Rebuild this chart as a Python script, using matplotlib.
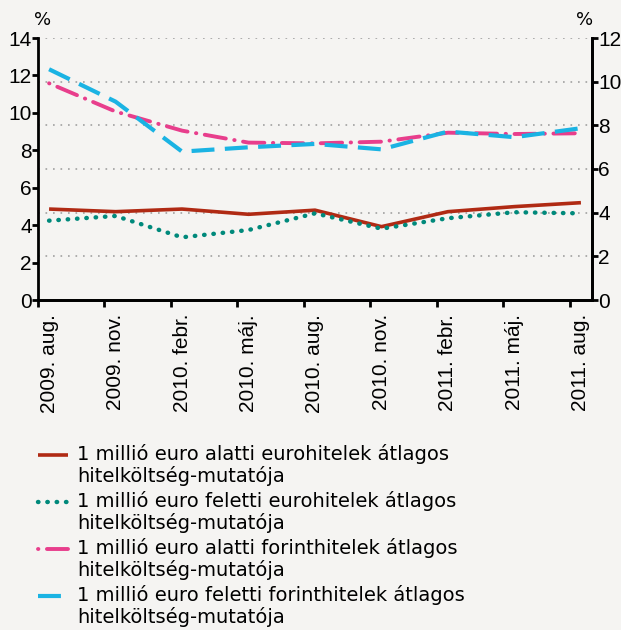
import numpy as np
import matplotlib.pyplot as plt
from matplotlib.lines import Line2D

months = ['2009. aug.', '2009. nov.', '2010. febr.', '2010. máj.', '2010. aug.',
          '2010. nov.', '2011. febr.', '2011. máj.', '2011. aug.']
# quarterly values, % (left axis)
eur_small = [4.86, 4.72, 4.86, 4.58, 4.80, 3.92, 4.72, 4.99, 5.20]
eur_large = [4.24, 4.49, 3.35, 3.74, 4.63, 3.81, 4.37, 4.69, 4.63]
huf_small = [11.58, 10.07, 9.05, 8.41, 8.37, 8.46, 8.94, 8.87, 8.91]
huf_large = [12.33, 10.60, 7.93, 8.16, 8.34, 8.05, 9.00, 8.70, 9.18]
labels = ['1 millió euro alatti eurohitelek átlagos\nhitelköltség-mutatója',
          '1 millió euro feletti eurohitelek átlagos\nhitelköltség-mutatója',
          '1 millió euro alatti forinthitelek átlagos\nhitelköltség-mutatója',
          '1 millió euro feletti forinthitelek átlagos\nhitelköltség-mutatója']

bg = '#f5f4f2'
W, H = 621, 630
fig = plt.figure(figsize=(W/100, H/100), dpi=100, facecolor=bg)
ax = fig.add_axes([38/W, 1-300/H, 554/W, 262/H])
ax2 = ax.twinx()
ax.set_zorder(ax2.get_zorder() + 1)
ax.patch.set_visible(False)
ax2.set_facecolor(bg)

x = np.arange(len(months)) * 3  # monthly category axis, labels every 3rd month

styles = [dict(color='#b02a14', lw=2.6, linestyle='-', solid_capstyle='butt'),
          dict(color='#00897b', lw=3.2, linestyle=(0, (0.1, 2.0)), dash_capstyle='round'),
          dict(color='#e83e8c', lw=2.8, linestyle=(0, (0.1, 2.2, 5.5, 2.2)), dash_capstyle='round'),
          dict(color='#1ab3e3', lw=3, linestyle=(0, (5.5, 2.5)))]

for ys, st in zip([eur_small, eur_large, huf_small, huf_large], styles):
    ax.plot(x, ys, **st)

ax.set_xlim(-0.5, 24.5)
ax.set_ylim(0, 14)
ax2.set_ylim(0, 12)
ax.set_yticks(np.arange(0, 15, 2))
ax2.set_yticks(np.arange(0, 13, 2))

ax.set_xticks(x)
ax.set_xticklabels(months, rotation=90, fontsize=15, family='Liberation Sans')
ax.set_xticks(np.arange(-0.5, 24, 3), minor=True)
ax.tick_params(axis='x', which='major', length=0, pad=10)
ax.tick_params(axis='x', which='minor', length=5, width=2, direction='out')
for a in (ax, ax2):
    a.tick_params(axis='y', length=4, width=2, labelsize=15, pad=0.5)
    for t in a.get_yticklabels():
        t.set_family('Liberation Sans')

ax2.yaxis.grid(True, linestyle=(0, (1, 3.5)), color='#a0a0a0', lw=1.2)
ax2.set_axisbelow(True)
for a in (ax, ax2):
    a.spines['top'].set_visible(False)
    for s in ('left', 'right', 'bottom'):
        a.spines[s].set_linewidth(2)
ax2.spines['left'].set_visible(False)

fig.text(43/W, 1-20/H, '%', fontsize=13, ha='center', va='center')
fig.text(585/W, 1-20/H, '%', fontsize=13, ha='center', va='center')

# legend: handle next to the first line of each two-line label
for i, (lab, st) in enumerate(zip(labels, styles)):
    yc = 455 + i * 47
    fig.add_artist(Line2D([38/W, 68/W], [1-yc/H, 1-yc/H],
                          transform=fig.transFigure, **st))
    fig.text(77/W, 1-(yc-11)/H, lab, fontsize=14, ha='left', va='top',
             linespacing=1.15)

fig.savefig('out.png', dpi=100, facecolor=bg)
